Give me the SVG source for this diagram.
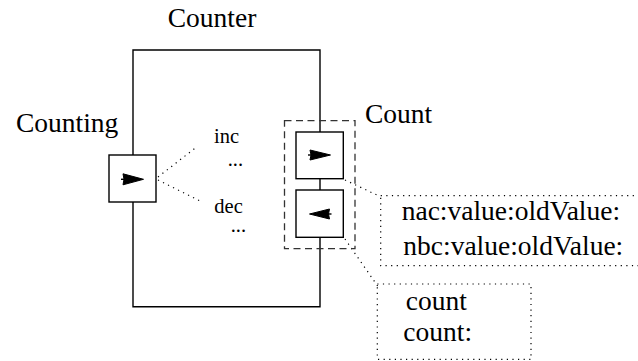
<svg xmlns="http://www.w3.org/2000/svg" width="638" height="361" viewBox="0 0 638 361">
<style>
.t{font-family:'Liberation Serif','DejaVu Serif',serif;fill:#000}
.big{font-size:27.5px}
.sm{font-size:20.5px}
.box{fill:#fff;stroke:#000;stroke-width:1.4}
.line{fill:none;stroke:#000;stroke-width:1.4}
.dash{fill:none;stroke:#333;stroke-width:1.3;stroke-dasharray:7 4.5}
.dot{fill:none;stroke:#000;stroke-width:1.2;stroke-dasharray:1.2 4.4}
.arr{fill:#000;stroke:#000;stroke-width:1;stroke-linejoin:round}
</style>
<g id="connectors">
<path class="line" d="M133,155 V50 H320 V132 M320,178.7 V190 M320,237.3 V306.7 H133 V202"/>
<path class="dot" d="M158,177 L197,146.7"/>
<path class="dot" d="M158,180 L202,202"/>
<path class="dot" d="M345,180 L379,196"/>
<path class="dot" d="M345,239 L379,288"/>
</g>
<g id="Counter">
<text class="t big" x="167.7" y="27.3">Counter</text>
</g>
<g id="Counting">
<rect class="box" x="109" y="155" width="47" height="47"/>
<path class="arr" d="M123,173.8 L143.5,179.3 L123,184.8 L124,179.3 Z"/>
<path class="line" d="M121,179.3 H125"/>
<text class="t big" x="16" y="131.7">Counting</text>
</g>
<g id="labels">
<text class="t sm" x="214" y="143.3">inc</text>
<text class="t sm" x="227.7" y="165.7">...</text>
<text class="t sm" x="214.3" y="213.3">dec</text>
<text class="t sm" x="230.7" y="232">...</text>
</g>
<g id="Count">
<rect class="dash" x="284.5" y="120.7" width="70.5" height="128"/>
<rect class="box" x="296" y="132" width="47.3" height="46.7"/>
<path class="arr" d="M310,150 L330.5,155 L310,160 L311,155 Z"/>
<path class="line" d="M308,155 H312"/>
<rect class="box" x="296" y="190" width="47.3" height="47.3"/>
<path class="arr" d="M329.5,209 L309.5,214 L329.5,219 L328.5,214 Z"/>
<path class="line" d="M331.5,214 H327.5"/>
<text class="t big" x="365" y="122.7">Count</text>
</g>
<g id="messages">
<rect class="dot" x="380.7" y="195.7" width="262" height="70"/>
<text class="t big" x="401.7" y="220">nac:value:oldValue:</text>
<text class="t big" x="403.3" y="255">nbc:value:oldValue:</text>
</g>
<g id="countBox">
<rect class="dot" x="377.3" y="284" width="153.7" height="75.3"/>
<text class="t big" x="405.7" y="310">count</text>
<text class="t big" x="403.3" y="341">count:</text>
</g>
</svg>
